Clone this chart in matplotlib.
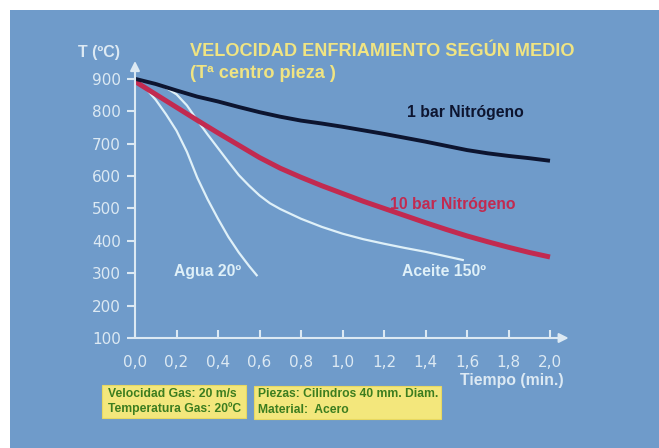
import matplotlib
matplotlib.use("Agg")
import matplotlib.pyplot as plt
from matplotlib.patches import Rectangle

# === DATA ===
t_1bar = [0, 0.1, 0.2, 0.3, 0.4, 0.5, 0.6, 0.7, 0.8, 0.9, 1.0,
          1.1, 1.2, 1.3, 1.4, 1.5, 1.6, 1.7, 1.8, 1.9, 2.0]
T_1bar = [900, 884, 864, 845, 830, 813, 797, 783, 771, 762, 752,
          741, 730, 718, 706, 693, 680, 670, 662, 655, 647]

t_10bar = [0, 0.1, 0.2, 0.3, 0.4, 0.5, 0.6, 0.7, 0.8, 0.9, 1.0,
           1.1, 1.2, 1.3, 1.4, 1.5, 1.6, 1.7, 1.8, 1.9, 2.0]
T_10bar = [892, 852, 812, 772, 733, 695, 657, 624, 596, 570, 546,
           522, 500, 478, 456, 435, 415, 397, 380, 364, 350]

t_aceite = [0, 0.05, 0.1, 0.15, 0.2, 0.25, 0.3, 0.35, 0.4, 0.45, 0.5, 0.55,
            0.6, 0.65, 0.7, 0.8, 0.9, 1.0, 1.1, 1.2, 1.3, 1.4, 1.5, 1.585]
T_aceite = [893, 891, 885, 872, 852, 818, 772, 728, 686, 644, 603, 570,
            540, 516, 498, 468, 443, 422, 405, 391, 378, 366, 352, 340]

t_agua = [0, 0.05, 0.1, 0.15, 0.2, 0.25, 0.3, 0.35, 0.4, 0.45, 0.5, 0.55, 0.59]
T_agua = [893, 872, 835, 790, 740, 675, 595, 528, 468, 412, 364, 322, 291]

x_ticks = [0.0, 0.2, 0.4, 0.6, 0.8, 1.0, 1.2, 1.4, 1.6, 1.8, 2.0]
y_ticks = [100, 200, 300, 400, 500, 600, 700, 800, 900]

# === COLOURS ===
BG = '#6f9bca'
AXIS = '#dce9f3'
BLACK = '#0d1530'
RED = '#c22a50'
WHITE_LINE = '#dff0f8'
YELLOW = '#f0e482'
BOX = '#f3e77c'
GREEN = '#3c7d1f'

W, H = 659, 448
fig = plt.figure(figsize=(W / 100, H / 100), dpi=100, facecolor='white')

def fx(x):
    return x / W

def fy(y):
    return 1 - y / H

# blue panel
fig.add_artist(Rectangle((fx(10), 0), 1, fy(10), transform=fig.transFigure,
                         facecolor=BG, edgecolor='none', zorder=0))

# axes: x=0 at px 135, 207.5 px per minute; T=100 at px 338, 0.324 px per degree
xmax, ymax = 2.1, 960
ax = fig.add_axes([fx(135), fy(338), xmax * 207.5 / W, (ymax - 100) * 0.324 / H])
ax.set_facecolor('none')
ax.set_xlim(0, xmax)
ax.set_ylim(100, ymax)
for s in ax.spines.values():
    s.set_visible(False)

# axis lines with arrows
ax.annotate('', xy=(2.09, 100), xytext=(0, 100),
            arrowprops=dict(arrowstyle='-|>', color=AXIS, lw=1.5,
                            mutation_scale=14, shrinkA=0, shrinkB=0),
            annotation_clip=False)
ax.annotate('', xy=(0, 955), xytext=(0, 100),
            arrowprops=dict(arrowstyle='-|>', color=AXIS, lw=1.5,
                            mutation_scale=14, shrinkA=0, shrinkB=0),
            annotation_clip=False)

ax.set_xticks(x_ticks)
ax.set_xticklabels([f"{v:.1f}".replace('.', ',') for v in x_ticks])
ax.set_yticks(y_ticks)
ax.tick_params(axis='x', direction='in', length=6, width=1.5, color=AXIS,
               labelcolor=AXIS, labelsize=11, pad=12)
ax.tick_params(axis='y', direction='out', length=6, width=1.5, color=AXIS,
               labelcolor=AXIS, labelsize=11, pad=4)
for lab in ax.get_xticklabels() + ax.get_yticklabels():
    lab.set_family('DejaVu Sans')

# curves
ax.plot(t_agua, T_agua, color=WHITE_LINE, lw=1.6, solid_capstyle='butt')
ax.plot(t_aceite, T_aceite, color=WHITE_LINE, lw=1.6, solid_capstyle='butt')
ax.plot(t_10bar, T_10bar, color=RED, lw=3.6, solid_capstyle='butt')
ax.plot(t_1bar, T_1bar, color=BLACK, lw=2.8, solid_capstyle='butt')

lab_font = dict(family='Liberation Sans', weight='bold', fontsize=11.3,
                ha='center', va='center')
ax.text(1.59, 795, '1 bar Nitrógeno', color=BLACK, **lab_font)
ax.text(1.53, 511, '10 bar Nitrógeno', color=RED, **lab_font)
ax.text(1.49, 304, 'Aceite 150º', color=WHITE_LINE, **lab_font)
ax.text(0.35, 304, 'Agua 20º', color=WHITE_LINE, **lab_font)

# titles and axis names
fig.text(fx(190), fy(52), 'VELOCIDAD ENFRIAMIENTO SEGÚN MEDIO', color=YELLOW,
         family='Liberation Sans', weight='bold', fontsize=13.1, va='center')
fig.text(fx(190), fy(73), '(Tª centro pieza )', color=YELLOW,
         family='Liberation Sans', weight='bold', fontsize=13.1, va='center')
fig.text(fx(99), fy(52), 'T (ºC)', color=AXIS, family='Liberation Sans',
         weight='bold', fontsize=11.5, ha='center', va='center')
fig.text(fx(512), fy(380), 'Tiempo (min.)', color=AXIS, family='Liberation Sans',
         weight='bold', fontsize=11.4, ha='center', va='center')

# info boxes
fig.add_artist(Rectangle((fx(102), fy(418)), fx(246 - 102), (418 - 385) / H,
                         transform=fig.transFigure, facecolor=BOX,
                         edgecolor='#e8d860', lw=0.8))
fig.add_artist(Rectangle((fx(254), fy(419)), fx(441 - 254), (419 - 386) / H,
                         transform=fig.transFigure, facecolor=BOX,
                         edgecolor='#e8d860', lw=0.8))
box_font = dict(color=GREEN, family='Liberation Sans', weight='bold',
                fontsize=8.7, va='center')
fig.text(fx(108), fy(394), 'Velocidad Gas: 20 m/s', **box_font)
fig.text(fx(108), fy(409), 'Temperatura Gas: 20ºC', **box_font)
fig.text(fx(258), fy(394), 'Piezas: Cilindros 40 mm. Diam.', **box_font)
fig.text(fx(258), fy(410), 'Material:  Acero', **box_font)

fig.savefig('out.png', dpi=100, facecolor='white')
